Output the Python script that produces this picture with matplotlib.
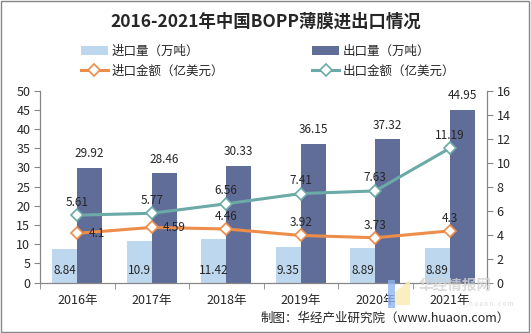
import matplotlib.pyplot as plt
import numpy as np
from matplotlib.patches import Rectangle, Polygon

plt.rcParams['font.family'] = ['Noto Sans CJK SC', 'DejaVu Sans']

years = ['2016年', '2017年', '2018年', '2019年', '2020年', '2021年']
import_qty = [8.84, 10.9, 11.42, 9.35, 8.89, 8.89]
export_qty = [29.92, 28.46, 30.33, 36.15, 37.32, 44.95]
import_amt = [4.1, 4.59, 4.46, 3.92, 3.73, 4.3]
export_amt = [5.61, 5.77, 6.56, 7.41, 7.63, 11.19]
import_lbl = ['8.84', '10.9', '11.42', '9.35', '8.89', '8.89']
export_lbl = ['29.92', '28.46', '30.33', '36.15', '37.32', '44.95']
imp_amt_lbl = ['4.1', '4.59', '4.46', '3.92', '3.73', '4.3']
exp_amt_lbl = ['5.61', '5.77', '6.56', '7.41', '7.63', '11.19']

c_imp = '#BDD7EE'
c_exp = '#5F6D98'
c_org = '#EE8C4A'
c_teal = '#6BAAA6'
txt = '#262626'
grey = '#868686'

W, H = 531, 333


def px(points):
    # pixel coords from the top-left corner -> figure fraction
    return [(u / W, 1 - v / H) for u, v in points]


fig = plt.figure(figsize=(W / 100, H / 100), dpi=100)
ax = fig.add_axes([40 / W, 1 - 282.5 / H, 447 / W, 192 / H])
ax2 = ax.twinx()

x = np.arange(len(years))
w = 0.335
b1 = ax.bar(x - w / 2, import_qty, w, color=c_imp, zorder=2)
b2 = ax.bar(x + w / 2, export_qty, w, color=c_exp, zorder=2)

l1, = ax2.plot(x, import_amt, color=c_org, lw=2.2, marker='D', ms=6,
               mfc='white', mec=c_org, mew=1.2, zorder=3)
l2, = ax2.plot(x, export_amt, color=c_teal, lw=2.2, marker='D', ms=6,
               mfc='white', mec=c_teal, mew=1.2, zorder=3)

ax.set_xlim(-0.5, 5.5)
ax.set_ylim(0, 50)
ax.set_yticks(range(0, 51, 5))
ax2.set_ylim(0, 16)
ax2.set_yticks(range(0, 17, 2))
ax.set_xticks(x)
ax.set_xticklabels(years)
ax.set_xticks(np.arange(-0.5, 6, 1), minor=True)
ax.tick_params(axis='x', which='major', length=0, pad=8, labelsize=9, labelcolor=txt)
ax.tick_params(axis='x', which='minor', length=4, color=grey)
ax.tick_params(axis='y', length=4, color=grey, labelsize=9, labelcolor=txt, pad=3)
ax2.tick_params(axis='y', length=4, color=grey, labelsize=9, labelcolor=txt, pad=3)

for a in (ax, ax2):
    a.spines['top'].set_visible(False)
    for s in ('left', 'right', 'bottom'):
        a.spines[s].set_color(grey)
        a.spines[s].set_linewidth(0.8)

# bar value labels
for i in range(len(years)):
    ax.text(x[i] - w / 2, 1.5, import_lbl[i], ha='center', va='bottom',
            fontsize=8.5, color=txt, zorder=5)
    ax.text(x[i] + w / 2, export_qty[i] + 2, export_lbl[i], ha='center',
            va='bottom', fontsize=8.5, color=txt, zorder=5)

# line value labels
for i in range(len(years)):
    ax2.text(x[i], export_amt[i] + 0.55, exp_amt_lbl[i], ha='center',
             va='bottom', fontsize=8.5, color=txt, zorder=5)
    if i < 2:
        ax2.text(x[i] + 0.15, import_amt[i], imp_amt_lbl[i], ha='left',
                 va='center', fontsize=8.5, color=txt, zorder=5)
    else:
        ax2.text(x[i], import_amt[i] + 0.5, imp_amt_lbl[i], ha='center',
                 va='bottom', fontsize=8.5, color=txt, zorder=5)

fig.text(0.5, 1 - 22 / H, '2016-2021年中国BOPP薄膜进出口情况', ha='center',
         va='center', fontsize=12.5, fontweight='bold', color=txt)

fig.legend([b1, l1, b2, l2],
           ['进口量（万吨）', '进口金额（亿美元）', '出口量（万吨）', '出口金额（亿美元）'],
           ncol=2, loc='center', bbox_to_anchor=(0.505, 1 - 61 / H),
           frameon=False, fontsize=9, handlelength=2.2, columnspacing=7.0,
           labelspacing=0.55, handletextpad=0.3, labelcolor=txt)

# watermark logo and text
fig.patches.append(Polygon(px([(388, 280), (395, 280), (395, 308), (388, 308)]),
                           closed=True, transform=fig.transFigure, fc='#8FB4F0',
                           ec='none', alpha=0.8, zorder=0))
fig.patches.append(Polygon(px([(395, 292), (410, 280), (410, 305), (395, 305)]),
                           closed=True, transform=fig.transFigure, fc='#FBEAB0',
                           ec='none', alpha=0.8, zorder=0))
fig.text(455 / W, 1 - 285 / H, '华经情报网', ha='center', va='center',
         fontsize=10.5, fontweight='bold', color='#D3D3D3', alpha=0.8, zorder=0)
fig.text(491 / W, 1 - 304 / H, 'h u a o n . c o m', ha='center', va='center',
         fontsize=4.5, color='#DADADA', zorder=0)

fig.text(510 / W, 1 - 318 / H, '制图：华经产业研究院（www.huaon.com）',
         ha='right', va='center', fontsize=9, color=txt)

fig.patches.append(Rectangle((0.002, 0.003), 0.995, 0.994, transform=fig.transFigure,
                             fill=False, ec=grey, lw=1))

fig.savefig('out.png', dpi=100)
